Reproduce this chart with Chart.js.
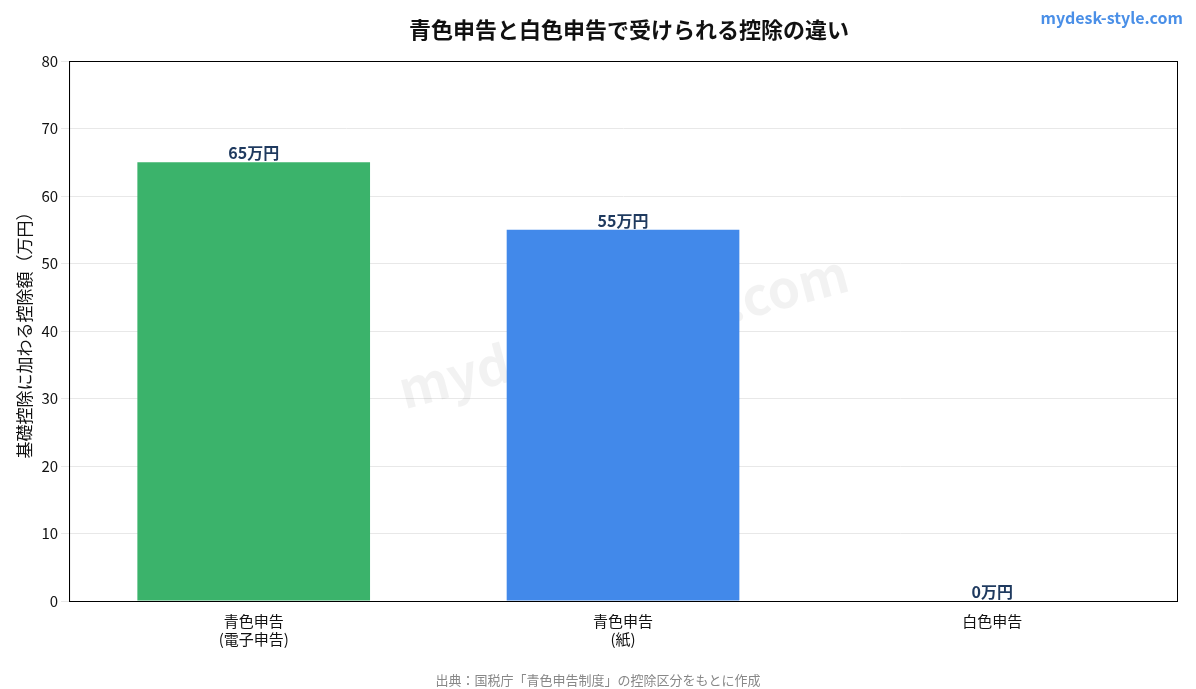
<!DOCTYPE html>
<html><head><meta charset="utf-8">
<script src="https://cdn.jsdelivr.net/npm/chart.js@4/dist/chart.umd.min.js"></script>
<style>html,body{margin:0;padding:0;background:#fff}#w{width:1196px;height:689px;position:relative}</style>
</head><body><div id="w"><canvas id="c" width="1196" height="689"></canvas></div>
<script>
const categories = [["青色申告","(電子申告)"],["青色申告","(紙)"],"白色申告"];
const values = [65, 55, 0];
const valueLabels = ["65万円","55万円","0万円"];
const barColors = ["#3bb36b","#4289ea","#4289ea"];
const yTicks = [0,10,20,30,40,50,60,70,80];
const F = "'Noto Sans CJK JP','Noto Sans',sans-serif";

const deco = {
  id:'deco',
  beforeDatasetsDraw(ch){
    const {ctx,chartArea:a}=ch;
    ctx.save();
    ctx.translate((a.left+a.right)/2,(a.top+a.bottom)/2);
    ctx.rotate(-0.26);
    ctx.font="bold 52px "+F;ctx.fillStyle="rgba(0,0,0,0.05)";
    ctx.textAlign='center';ctx.textBaseline='middle';
    ctx.fillText("mydesk-style.com",0,0);
    ctx.restore();
  },
  afterDatasetsDraw(ch){
    const {ctx,chartArea:a}=ch;
    const meta=ch.getDatasetMeta(0);
    ctx.save();
    ctx.font="bold 16px "+F;ctx.fillStyle="#1f3a5f";ctx.textAlign='center';ctx.textBaseline='bottom';
    meta.data.forEach((b,i)=>ctx.fillText(valueLabels[i],b.x,b.y-1));
    ctx.strokeStyle="#000";ctx.lineWidth=1;
    ctx.strokeRect(a.left+0.5,a.top+0.5,a.right-a.left,a.bottom-a.top);
    ctx.font="bold 22px "+F;ctx.fillStyle="#111";ctx.textBaseline='middle';
    ctx.fillText("青色申告と白色申告で受けられる控除の違い",629,30);
    ctx.font="bold 16px "+F;ctx.fillStyle="#4a8fe7";ctx.textAlign='right';
    ctx.fillText("mydesk-style.com",1183,18);
    ctx.font="13px "+F;ctx.fillStyle="#888";ctx.textAlign='center';
    ctx.fillText("出典：国税庁「青色申告制度」の控除区分をもとに作成",598,680);
    ctx.restore();
  }
};

new Chart(document.getElementById('c'),{
  type:'bar',
  data:{labels:categories,datasets:[{data:values,backgroundColor:barColors,barPercentage:0.63,categoryPercentage:1}]},
  options:{
    responsive:false,animation:false,
    layout:{padding:{top:61,right:19,bottom:38,left:10}},
    plugins:{legend:{display:false},tooltip:{enabled:false}},
    scales:{
      x:{grid:{display:false},border:{color:'#000'},ticks:{color:'#111',font:{family:F,size:15}}},
      y:{min:0,max:80,afterBuildTicks:s=>{s.ticks=yTicks.map(v=>({value:v}))},
        grid:{color:'#e8e8e8'},border:{color:'#000'},
        ticks:{color:'#111',font:{family:F,size:15}},
        title:{display:true,text:"基礎控除に加わる控除額（万円）",color:'#111',font:{family:F,size:17}}}
    }
  },
  plugins:[deco]
});
</script></body></html>
